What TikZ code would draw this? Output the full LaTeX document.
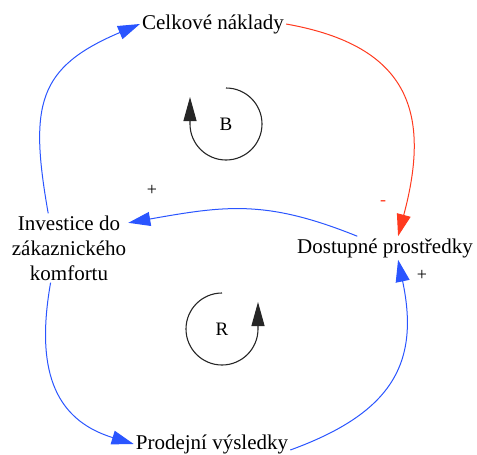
\documentclass[tikz,border=0pt]{standalone}
\usepackage{fontspec}
\setmainfont{Liberation Serif}
\usetikzlibrary{arrows.meta}
\definecolor{cldblue}{HTML}{2A55FF}
\definecolor{cldred}{HTML}{FF3A1F}

\begin{document}
\begin{tikzpicture}[
  x=1pt, y=1pt,
  var/.style={inner sep=2pt, align=center, font=\fontsize{21}{25}\selectfont},
  pol/.style={inner sep=0pt, font=\fontsize{18}{18}\selectfont},
  posarr/.style={-{Triangle[length=22pt,width=14pt]}, line width=1pt, color=cldblue},
  negarr/.style={-{Triangle[length=22pt,width=14pt]}, line width=1pt, color=cldred},
  loopar/.style={-{Triangle[length=24pt,width=13pt]}, line width=1.1pt, color=black!85},
]
  \useasboundingbox (0,0) rectangle (477,-455);

  \node[var] (cel) at (213,-24) {Celkové náklady};
  \node[var] (inv) at (69,-248) {Investice do\\zákaznického\\komfortu};
  \node[var] (dos) at (385,-248) {Dostupné prostředky};
  \node[var] (pro) at (212,-444) {Prodejní výsledky};

  \node[var, font=\fontsize{19}{19}\selectfont] (b) at (226,-124) {B};
  \node[var, font=\fontsize{19}{19}\selectfont] (r) at (222,-329) {R};

  \draw[posarr] (inv.121) to[out=100, in=203, looseness=1.35] (cel.west);
  \draw[negarr] (cel.east) to[out=-10, in=75, looseness=1.35] (dos.42);
  \draw[posarr] (dos.157) to[out=158, in=10, looseness=1.1] (inv.23);
  \draw[posarr] (inv.-118) to[out=-100, in=163, looseness=1.2] (pro.west);
  \draw[posarr] ([yshift=-6pt]pro.east) to[out=20, in=-78, looseness=1.25] (dos.-42);

  \node[pol] (p1) at (152,-190) {+};
  \node[pol, text=cldred] (m1) at (383,-203) {-};
  \node[pol] (p2) at (422,-275) {+};

  \draw[loopar] ([shift={(90:36)}]b.center) arc[start angle=90, end angle=-180, radius=36] -- ++(0,27);
  \draw[loopar] ([shift={(90:36)}]r.center) arc[start angle=90, end angle=360, radius=36] -- ++(0,27);
\end{tikzpicture}
\end{document}
